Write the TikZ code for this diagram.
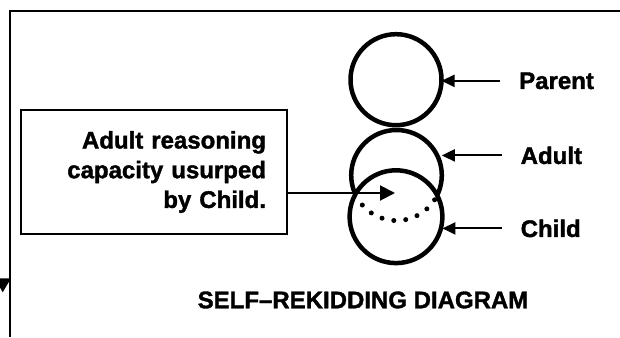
\documentclass[tikz,border=0pt]{standalone}
\usepackage{fontspec}
\setmainfont{Liberation Sans}[BoldFeatures={FakeBold=1.5}]
\usetikzlibrary{arrows.meta}
\tikzset{
  lbl/.style={font=\bfseries\fontsize{24}{29.7}\selectfont, inner sep=0pt},
  ring/.style={circle, draw, line width=4.5pt, inner sep=0pt, outer sep=0pt},
  arr/.style={line width=2pt, -{Triangle[length=13pt,width=12pt]}},
  bigarr/.style={line width=2pt, -{Triangle[length=15pt,width=15pt]}},
  dotline/.style={line width=5pt, line cap=round, dash pattern=on 0pt off 12pt}
}

\begin{document}
\begin{tikzpicture}[x=1pt,y=1pt]
\useasboundingbox (0,0) rectangle (620,337);
\draw[line width=2pt] (9.5,0) -- (9.5,326) -- (620,326);
\fill (-5,58.7) -- (11,58.7) -- (2.7,44.7) -- cycle;

\node[ring, minimum size=91pt] (parent) at (396,257.3) {};
\node[ring, minimum size=90.6pt] (adult) at (396.5,161.7) {};
\node[ring, minimum size=92.8pt, fill=white] (child) at (396,120.3) {};
\draw[dotline] (adult.221) arc[start angle=221, end angle=327.5, radius=45.3pt];

\node[lbl, anchor=base west] (plab) at (519,248) {Parent};
\node[lbl, anchor=base west] (alab) at (520.5,173) {Adult};
\node[lbl, anchor=base west] (clab) at (520.5,100) {Child};
\draw[arr, shorten <=19pt] (plab.west) -- (plab.west -| parent.east);
\draw[arr, shorten <=19pt] (alab.west) -- (alab.west -| adult.east);
\draw[arr, shorten <=19pt] (clab.west) -- (clab.west -| child.east);

\node[lbl, draw, line width=2pt, text width=224pt, align=right, inner xsep=21pt,
  inner ysep=0pt, minimum height=124pt] (msg) at (154,165)
  {Adult reasoning\\capacity usurped\\by Child.};
\coordinate (usurp) at (395,144);
\draw[bigarr] (msg.east |- usurp) -- (usurp);

\node[lbl] (title) at (363,37) {SELF–REKIDDING DIAGRAM};
\end{tikzpicture}
\end{document}
